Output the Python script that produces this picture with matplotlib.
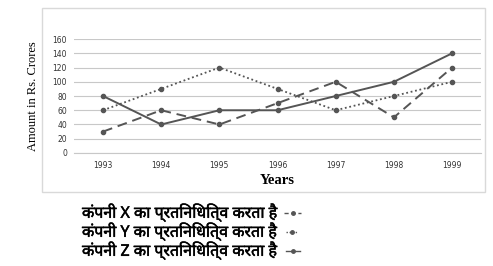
import matplotlib
matplotlib.use("Agg")
import matplotlib.pyplot as plt
import matplotlib.patheffects as pe
from matplotlib.lines import Line2D
from matplotlib.patches import Rectangle

# data
years = ["1993", "1994", "1995", "1996", "1997", "1998", "1999"]
company_x = [30, 60, 40, 70, 100, 50, 120]
company_y = [60, 90, 120, 90, 60, 80, 100]
company_z = [80, 40, 60, 60, 80, 100, 140]
y_ticks = [0, 20, 40, 60, 80, 100, 120, 140, 160]
legend_labels = ["कंपनी X का प्रतिनिधित्व करता है",
                 "कंपनी Y का प्रतिनिधित्व करता है",
                 "कंपनी Z का प्रतिनिधित्व करता है"]

line_col = "#555555"
hindi_font = ["Noto Sans", "DejaVu Sans"]

fig = plt.figure(figsize=(4.93, 2.66), dpi=100)
ax = fig.add_axes([0.150, 0.425, 0.826, 0.428])

xs = range(len(years))
ax.plot(xs, company_x, color=line_col, lw=1.4, ls=(0, (5, 3)),
        marker="o", ms=3)
ax.plot(xs, company_y, color=line_col, lw=1.3, ls=(0, (1, 1.5)),
        marker="o", ms=3)
ax.plot(xs, company_z, color=line_col, lw=1.4, ls="-",
        marker="o", ms=3)

ax.set_xlim(-0.5, len(years) - 0.5)
ax.set_ylim(0, 160)
ax.set_yticks(y_ticks)
ax.set_xticks(list(xs))
ax.set_xticklabels(years)
ax.tick_params(axis="both", length=0, labelsize=5.5, colors="#333333")
ax.tick_params(axis="y", pad=5)
ax.tick_params(axis="x", pad=6)
ax.grid(axis="y", color="#c8c8c8", lw=0.8)
ax.set_axisbelow(True)
for side in ["top", "right", "left"]:
    ax.spines[side].set_visible(False)
ax.spines["bottom"].set_color("#c8c8c8")

ax.set_ylabel("Amount in Rs. Crores", family="Liberation Serif",
              fontsize=9, labelpad=10)
ax.set_xlabel("Years", family="Liberation Serif", fontsize=10.5,
              fontweight="bold", labelpad=3)

# light frame around the chart area
fig.patches.append(Rectangle((42 / 493, 1 - 192 / 266), 443 / 493, 184 / 266,
                             transform=fig.transFigure, fill=False,
                             ec="#d9d9d9", lw=1))

# legend drawn below the chart
row_y = [1 - 213 / 266, 1 - 232 / 266, 1 - 251 / 266]
styles = [(0, (3, 2)), (0, (1, 1.2)), "-"]
spans = [(284, 301), (286, 298), (286, 300)]
thick = [pe.withStroke(linewidth=0.35, foreground="black")]
for lab, yy, st, (x0, x1) in zip(legend_labels, row_y, styles, spans):
    fig.text(82 / 493, yy, lab, family=hindi_font, fontsize=11.5,
             fontweight="bold", va="center", path_effects=thick)
    fig.lines.append(Line2D([x0 / 493, x1 / 493], [yy, yy],
                            transform=fig.transFigure, color=line_col,
                            lw=1.0, ls=st))
    fig.lines.append(Line2D([(x0 + x1) / 2 / 493], [yy], marker="o",
                            ms=2.5, color=line_col, transform=fig.transFigure))

fig.savefig("out.png", dpi=100)
